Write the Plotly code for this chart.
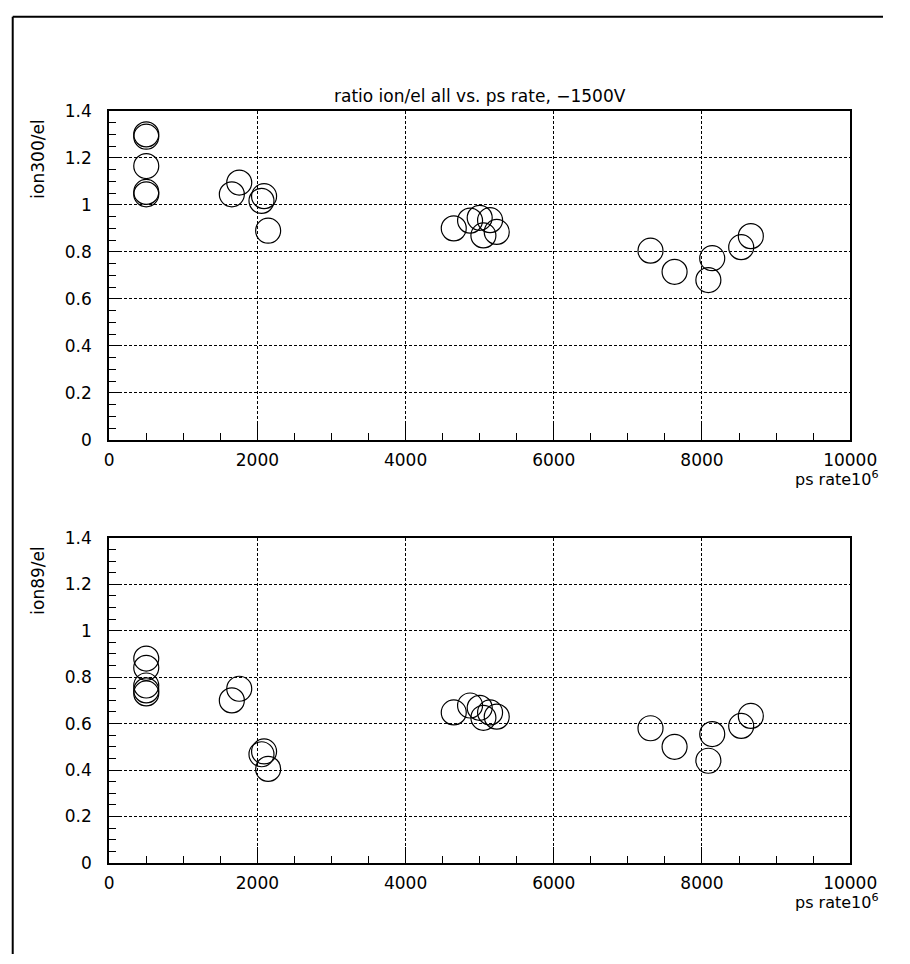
import plotly.graph_objects as go

W, H = 910, 964

# ---- data ----
ps_rate = [500, 500, 500, 500, 500,
           1655, 1755,
           2055, 2090, 2145,
           4650, 4870, 5000, 5050, 5140, 5230,
           7305, 7630, 8086, 8138, 8529, 8659]
ion300_el = [1.30, 1.29, 1.165, 1.055, 1.045,
             1.045, 1.095,
             1.017, 1.037, 0.89,
             0.90, 0.933, 0.945, 0.87, 0.935, 0.885,
             0.805, 0.715, 0.68, 0.773, 0.82, 0.867]
ion89_el = [0.88, 0.84, 0.764, 0.743, 0.73,
            0.70, 0.75,
            0.468, 0.48, 0.405,
            0.648, 0.678, 0.668, 0.625, 0.648, 0.63,
            0.58, 0.50, 0.44, 0.555, 0.59, 0.633]

x_ticks = [0, 2000, 4000, 6000, 8000, 10000]
y_ticks = [0, 0.2, 0.4, 0.6, 0.8, 1, 1.2, 1.4]

title_text = "ratio ion/el all vs. ps rate, \u22121500V"
xtitle_text = "ps rate10<sup>6</sup>"
ytitle_top = "ion300/el"
ytitle_bot = "ion89/el"


def px(x):
    return x / W


def py(y):
    return 1 - y / H


FONT = "DejaVu Sans"
marker = dict(symbol="circle-open", size=25, color="black", line=dict(width=1.2, color="black"))

fig = go.Figure()
fig.add_trace(go.Scatter(x=ps_rate, y=ion300_el, mode="markers", marker=marker,
                         xaxis="x", yaxis="y", showlegend=False))
fig.add_trace(go.Scatter(x=ps_rate, y=ion89_el, mode="markers", marker=marker,
                         xaxis="x2", yaxis="y2", showlegend=False))

x_left, x_right = 108, 876
top_t, top_b = 103, 439
bot_t, bot_b = 539, 871


def xaxis_cfg(anchor):
    return dict(domain=[px(x_left), px(x_right)], range=[0, 10000], anchor=anchor,
                tickvals=x_ticks, tickformat="d", ticks="inside", ticklen=16, tickwidth=1,
                tickcolor="black", showline=True, linecolor="black", linewidth=2, mirror=True,
                showgrid=True, gridcolor="black", gridwidth=1, griddash="3px,2px",
                zeroline=False, ticklabelstandoff=4,
                tickfont=dict(family=FONT, size=17, color="black"),
                minor=dict(dtick=500, ticks="inside", ticklen=7, tickcolor="black", showgrid=False))


def yaxis_cfg(anchor, t, b):
    return dict(domain=[py(b), py(t)], range=[0, 1.4], anchor=anchor,
                tickvals=y_ticks, ticks="inside", ticklen=13, tickwidth=1,
                tickcolor="black", showline=True, linecolor="black", linewidth=2, mirror=True,
                showgrid=True, gridcolor="black", gridwidth=1, griddash="3px,2px",
                zeroline=False, ticklabelstandoff=12,
                tickfont=dict(family=FONT, size=17, color="black"),
                minor=dict(dtick=0.05, ticks="inside", ticklen=7, tickcolor="black", showgrid=False))


annotations = [
    dict(text=title_text, x=px(492), y=py(88), xref="paper", yref="paper",
         xanchor="center", yanchor="middle", showarrow=False,
         font=dict(family=FONT, size=17, color="black")),
    dict(text=ytitle_top, x=px(34), y=py(152), xref="paper", yref="paper",
         xanchor="center", yanchor="middle", showarrow=False, textangle=-90,
         font=dict(family=FONT, size=17, color="black")),
    dict(text=ytitle_bot, x=px(34), y=py(583), xref="paper", yref="paper",
         xanchor="center", yanchor="middle", showarrow=False, textangle=-90,
         font=dict(family=FONT, size=17, color="black")),
    dict(text=xtitle_text, x=px(908), y=py(478), xref="paper", yref="paper",
         xanchor="right", yanchor="middle", showarrow=False,
         font=dict(family=FONT, size=16, color="black")),
    dict(text=xtitle_text, x=px(908), y=py(910), xref="paper", yref="paper",
         xanchor="right", yanchor="middle", showarrow=False,
         font=dict(family=FONT, size=16, color="black")),
]

shapes = [
    dict(type="line", xref="paper", yref="paper", x0=px(8), y0=py(7), x1=1, y1=py(7),
         line=dict(color="black", width=2), layer="above"),
    dict(type="line", xref="paper", yref="paper", x0=px(8), y0=py(7), x1=px(8), y1=0,
         line=dict(color="black", width=2), layer="above"),
]

fig.update_layout(
    width=W, height=H,
    margin=dict(l=0, r=0, t=0, b=0),
    paper_bgcolor="white", plot_bgcolor="white",
    xaxis=xaxis_cfg("y"),
    yaxis=yaxis_cfg("x", top_t, top_b),
    xaxis2=xaxis_cfg("y2"),
    yaxis2=yaxis_cfg("x2", bot_t, bot_b),
    annotations=annotations,
    shapes=shapes,
    showlegend=False,
)

fig.write_html("out.html", post_script="document.body.style.margin='0';")
